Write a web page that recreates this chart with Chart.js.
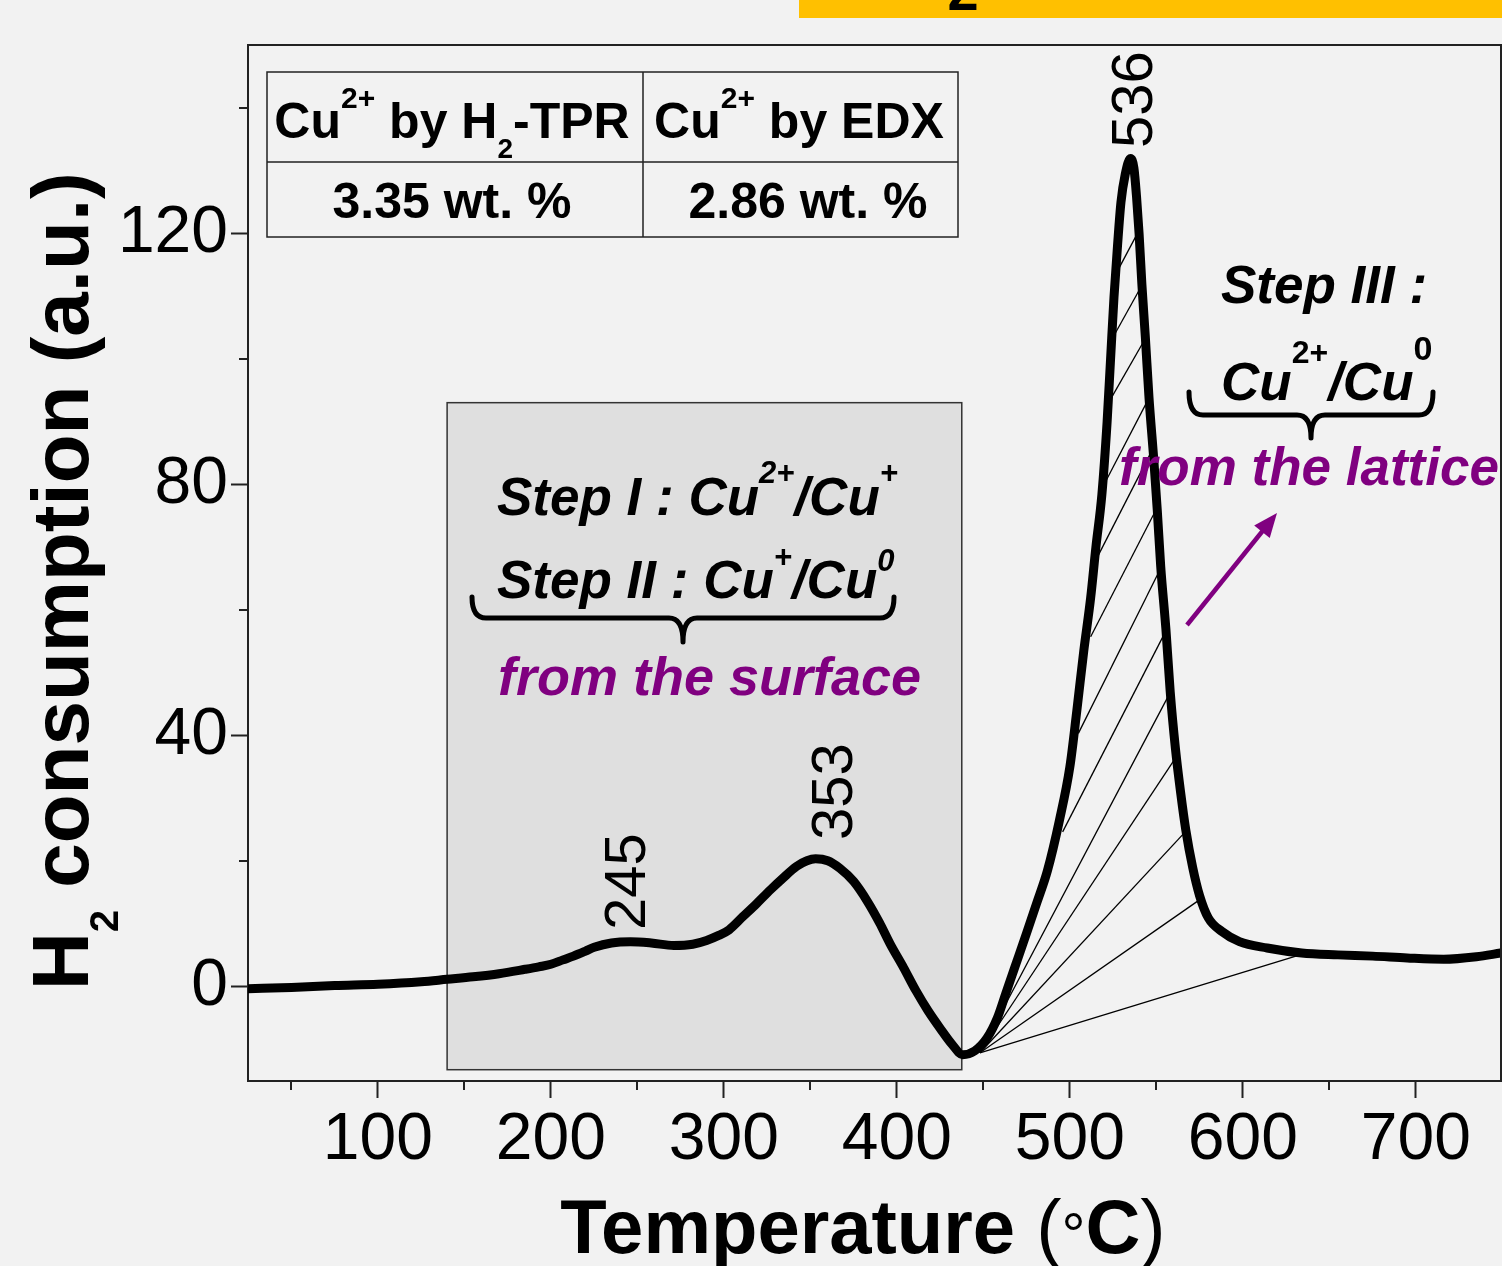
<!DOCTYPE html>
<html>
<head>
<meta charset="utf-8">
<script src="https://cdn.jsdelivr.net/npm/chart.js@4.4.1/dist/chart.umd.min.js"></script>
<style>
  html, body { margin: 0; padding: 0; background: #f2f2f2; overflow: hidden; }
  #wrap { width: 1502px; height: 1266px; }
</style>
</head>
<body>
<div id="wrap"><canvas id="tpr" width="1502" height="1266"></canvas></div>
<script>
// H2-TPR profile, temperature (°C) vs H2 consumption (a.u.)
const tempC = [25, 50, 75, 100, 125, 140, 155, 170, 185, 193, 200, 207, 213, 220, 225, 235, 246, 258, 271, 282,
  290, 297, 303, 311, 319, 327, 334, 342, 348, 353, 360, 367, 375, 383, 390, 396, 404, 411, 418, 425,
  432, 438, 445, 452, 458, 463, 468, 475, 481, 487, 494, 500, 504, 508, 512, 515, 518.5, 521.5, 523.5, 525.5,
  527.5, 529.5, 532, 535, 537, 538.5, 540, 541.6, 543.6, 545.7, 548.5, 550.5, 552.5, 555.5, 558, 561, 564, 567,
  571, 575, 580, 588, 598, 614, 634, 655, 675, 695, 716, 735, 749];
const h2Signal = [-0.3, -0.1, 0.2, 0.4, 0.8, 1.2, 1.6, 2.1, 2.8, 3.2, 3.6, 4.3, 4.9, 5.7, 6.3, 7.0, 7.2, 7.0, 6.6, 6.8,
  7.4, 8.2, 9.1, 11.2, 13.3, 15.5, 17.3, 19.2, 20.1, 20.4, 20.1, 18.9, 16.8, 13.6, 10.2, 6.9, 3.0, -0.6, -3.8, -6.6,
  -9.2, -10.8, -10.2, -8.2, -5.0, -1.0, 3.0, 8.6, 13.5, 18.5, 26.6, 35.1, 44, 53.5, 62, 70, 78.5, 90, 100, 110,
  118, 125, 129.5, 132, 130.5, 126, 120, 112, 103.6, 94, 84, 76, 67, 57, 47, 38, 31, 25,
  19, 14.5, 11, 8.8, 7.2, 6.2, 5.4, 5.1, 4.9, 4.6, 4.4, 4.8, 5.4];

// hatch segments under the 536 °C peak (start / end of each stroke)
const hatchX1 = [528.3, 526.3, 523.2, 520.2, 516.1, 512, 504.9, 495.8, 448, 448, 448, 448, 448];
const hatchY1 = [114.5, 104.2, 93.5, 80.3, 68.6, 55.8, 40.4, 24.7, -10.5, -10.5, -10.5, -10.5, -10.5];
const hatchX2 = [538.5, 542.2, 544.2, 546.2, 548.2, 549.7, 551.2, 554.3, 556.8, 560.9, 566, 575.1, 633];
const hatchY2 = [119.8, 112.1, 103.6, 94.1, 85.9, 76, 66, 56.1, 46.3, 36.4, 24.5, 13.9, 5.1];

const peakTemps = ['245', '353', '536'];

const xMajorTicks = [100, 200, 300, 400, 500, 600, 700];
const xMinorTicks = [50, 150, 250, 350, 450, 550, 650];
const yMajorTicks = [0, 40, 80, 120];
const yMinorTicks = [20, 60, 100, 140];

const tableHead = ['by H', 'by EDX'];
const tableValues = ['3.35 wt. %', '2.86 wt. %'];

const FONT = '"Liberation Sans", Arial, sans-serif';
const PURPLE = '#800080';
const AXIS = '#222222';

function runsWidth(ctx, runs) {
  let w = 0;
  runs.forEach((r) => { ctx.font = r.font; w += ctx.measureText(r.t).width; });
  return w;
}

// draw a row of text pieces (for super/subscripts)
function drawRuns(ctx, x, y, runs, align) {
  ctx.save();
  ctx.textBaseline = 'alphabetic';
  ctx.textAlign = 'left';
  let cx = align === 'center' ? x - runsWidth(ctx, runs) / 2 : x;
  runs.forEach((r) => {
    ctx.font = r.font;
    ctx.fillStyle = r.color || '#000';
    ctx.fillText(r.t, cx, y + (r.dy || 0));
    cx += ctx.measureText(r.t).width;
  });
  ctx.restore();
}

function brace(ctx, x0, x1, yTop, yMid, yTip) {
  const xc = (x0 + x1) / 2;
  const r = 14;
  ctx.save();
  ctx.strokeStyle = '#000';
  ctx.lineWidth = 5;
  ctx.lineJoin = 'round';
  ctx.lineCap = 'round';
  ctx.beginPath();
  ctx.moveTo(x0, yTop);
  ctx.quadraticCurveTo(x0, yMid, x0 + r, yMid);
  ctx.lineTo(xc - r, yMid);
  ctx.quadraticCurveTo(xc, yMid, xc, yTip);
  ctx.quadraticCurveTo(xc, yMid, xc + r, yMid);
  ctx.lineTo(x1 - r, yMid);
  ctx.quadraticCurveTo(x1, yMid, x1, yTop);
  ctx.stroke();
  ctx.restore();
}

function arrow(ctx, x0, y0, x1, y1) {
  const a = Math.atan2(y1 - y0, x1 - x0);
  const L = 24, W = 10;
  const c = Math.cos(a), s = Math.sin(a);
  ctx.save();
  ctx.strokeStyle = PURPLE;
  ctx.fillStyle = PURPLE;
  ctx.lineWidth = 4.5;
  ctx.beginPath();
  ctx.moveTo(x0, y0);
  ctx.lineTo(x1 - L * 0.8 * c, y1 - L * 0.8 * s);
  ctx.stroke();
  ctx.beginPath();
  ctx.moveTo(x1, y1);
  ctx.lineTo(x1 - L * c + W * s, y1 - L * s - W * c);
  ctx.lineTo(x1 - L * c - W * s, y1 - L * s + W * c);
  ctx.closePath();
  ctx.fill();
  ctx.restore();
}

const decorations = {
  id: 'decorations',
  beforeDraw(chart) {
    const ctx = chart.ctx;
    ctx.save();
    ctx.fillStyle = '#f2f2f2';
    ctx.fillRect(0, 0, chart.width, chart.height);
    // strip of the banner above the plot
    ctx.fillStyle = '#ffc000';
    ctx.fillRect(799, 0, 703, 18);
    ctx.fillStyle = '#000';
    ctx.font = 'bold 56px ' + FONT;
    ctx.textAlign = 'center';
    ctx.textBaseline = 'alphabetic';
    ctx.fillText('2', 963, 10);
    ctx.restore();
  },
  beforeDatasetsDraw(chart) {
    const { ctx, scales: { x, y } } = chart;
    // shaded "surface" window
    const l = x.getPixelForValue(140), r = x.getPixelForValue(437.5);
    const t = y.getPixelForValue(93.1), b = y.getPixelForValue(-13.2);
    ctx.save();
    ctx.fillStyle = '#dfdfdf';
    ctx.fillRect(l, t, r - l, b - t);
    ctx.strokeStyle = '#333';
    ctx.lineWidth = 1.5;
    ctx.strokeRect(l, t, r - l, b - t);
    ctx.restore();
  },
  afterDatasetsDraw(chart) {
    const ctx = chart.ctx;
    const B = 'bold ', BI = 'italic bold ';

    // inset table
    ctx.save();
    ctx.strokeStyle = AXIS;
    ctx.lineWidth = 1.5;
    ctx.strokeRect(267, 72, 691, 165);
    ctx.beginPath();
    ctx.moveTo(267, 162); ctx.lineTo(958, 162);
    ctx.moveTo(643, 72); ctx.lineTo(643, 237);
    ctx.stroke();
    ctx.restore();
    drawRuns(ctx, 452, 138, [
      { t: 'Cu', font: B + '50px ' + FONT },
      { t: '2+', font: B + '30px ' + FONT, dy: -30 },
      { t: ' ' + tableHead[0], font: B + '50px ' + FONT },
      { t: '2', font: B + '28px ' + FONT, dy: 20 },
      { t: '-TPR', font: B + '50px ' + FONT },
    ], 'center');
    drawRuns(ctx, 799, 138, [
      { t: 'Cu', font: B + '50px ' + FONT },
      { t: '2+', font: B + '30px ' + FONT, dy: -30 },
      { t: ' ' + tableHead[1], font: B + '50px ' + FONT },
    ], 'center');
    drawRuns(ctx, 452, 218, [{ t: tableValues[0], font: B + '50px ' + FONT }], 'center');
    drawRuns(ctx, 808, 218, [{ t: tableValues[1], font: B + '50px ' + FONT }], 'center');

    // surface reduction steps
    drawRuns(ctx, 497, 515, [
      { t: 'Step I : Cu', font: BI + '53px ' + FONT },
      { t: '2+', font: BI + '31px ' + FONT, dy: -32 },
      { t: '/Cu', font: BI + '53px ' + FONT },
      { t: '+', font: BI + '31px ' + FONT, dy: -32 },
    ]);
    drawRuns(ctx, 497, 598, [
      { t: 'Step II : Cu', font: BI + '53px ' + FONT },
      { t: '+', font: BI + '31px ' + FONT, dy: -31 },
      { t: '/Cu', font: BI + '53px ' + FONT },
      { t: '0', font: BI + '31px ' + FONT, dy: -27 },
    ]);
    brace(ctx, 472, 894, 597, 618, 642);
    drawRuns(ctx, 498, 695, [{ t: 'from the surface', font: BI + '54px ' + FONT, color: PURPLE }]);

    // lattice reduction step
    drawRuns(ctx, 1221, 303, [{ t: 'Step III :', font: BI + '53px ' + FONT }]);
    drawRuns(ctx, 1221, 400, [
      { t: 'Cu', font: BI + '53px ' + FONT },
      { t: '2+', font: B + '32px ' + FONT, dy: -37 },
      { t: '/Cu', font: BI + '53px ' + FONT },
      { t: '0', font: B + '34px ' + FONT, dy: -40 },
    ]);
    brace(ctx, 1189, 1433, 392, 415, 438);
    drawRuns(ctx, 1119, 485, [{ t: 'from the lattice', font: BI + '53px ' + FONT, color: PURPLE }]);
    arrow(ctx, 1187, 625, 1277, 513);

    // peak maxima, rotated
    const peakPos = [[645, 930], [852, 840], [1152, 148]];
    ctx.save();
    ctx.fillStyle = '#000';
    ctx.font = '58px ' + FONT;
    ctx.textAlign = 'left';
    ctx.textBaseline = 'alphabetic';
    peakTemps.forEach((lbl, i) => {
      ctx.save();
      ctx.translate(peakPos[i][0], peakPos[i][1]);
      ctx.rotate(-Math.PI / 2);
      ctx.fillText(lbl, 0, 0);
      ctx.restore();
    });
    ctx.restore();
  },
  afterDraw(chart) {
    const { ctx, chartArea: a, scales: { x, y } } = chart;
    ctx.save();
    ctx.strokeStyle = AXIS;
    ctx.lineWidth = 2;
    // top and right frame
    ctx.beginPath();
    ctx.moveTo(a.left, a.top); ctx.lineTo(a.right, a.top); ctx.lineTo(a.right, a.bottom);
    ctx.stroke();
    // minor ticks
    ctx.beginPath();
    xMinorTicks.forEach((v) => {
      if (v < x.min || v > x.max) return;
      const px = Math.round(x.getPixelForValue(v));
      ctx.moveTo(px, a.bottom); ctx.lineTo(px, a.bottom + 9);
    });
    yMinorTicks.forEach((v) => {
      if (v < y.min || v > y.max) return;
      const py = Math.round(y.getPixelForValue(v));
      ctx.moveTo(a.left, py); ctx.lineTo(a.left - 9, py);
    });
    ctx.stroke();
    ctx.restore();

    // axis titles
    drawRuns(ctx, 863, 1253, [
      { t: 'Temperature ', font: 'bold 76px ' + FONT },
      { t: '(', font: '76px ' + FONT },
      { t: '\u00b0', font: '60px ' + FONT, dy: 2 },
      { t: 'C', font: 'bold 76px ' + FONT },
      { t: ')', font: '76px ' + FONT },
    ], 'center');
    ctx.save();
    ctx.translate(88, 990);
    ctx.rotate(-Math.PI / 2);
    drawRuns(ctx, 0, 0, [
      { t: 'H', font: 'bold 80px ' + FONT },
      { t: '2', font: 'bold 40px ' + FONT, dy: 30 },
      { t: ' consumption (a.u.)', font: 'bold 80px ' + FONT },
    ]);
    ctx.restore();
  },
};

const datasets = [{
  label: 'H2 consumption',
  data: tempC.map((t, i) => ({ x: t, y: h2Signal[i] })),
  borderColor: '#000',
  borderWidth: 9,
  pointRadius: 0,
  cubicInterpolationMode: 'monotone',
  borderJoinStyle: 'round',
  borderCapStyle: 'round',
  order: 0,
}];
hatchX1.forEach((_, i) => {
  datasets.push({
    label: 'hatch ' + i,
    data: [{ x: hatchX1[i], y: hatchY1[i] }, { x: hatchX2[i], y: hatchY2[i] }],
    borderColor: '#000',
    borderWidth: 1.3,
    pointRadius: 0,
    tension: 0,
    order: 1,
  });
});

new Chart(document.getElementById('tpr'), {
  type: 'line',
  data: { datasets },
  plugins: [decorations],
  options: {
    responsive: false,
    animation: false,
    layout: { padding: { top: 45, right: 1, left: 0, bottom: 0 } },
    plugins: { legend: { display: false }, tooltip: { enabled: false } },
    scales: {
      x: {
        type: 'linear',
        min: 24.9,
        max: 749.2,
        afterBuildTicks: (s) => { s.ticks = xMajorTicks.map((v) => ({ value: v })); },
        afterFit: (s) => { s.height = 185; },
        grid: { drawOnChartArea: false, drawTicks: true, tickLength: 17, tickWidth: 2, tickColor: AXIS },
        border: { display: true, color: AXIS, width: 2 },
        ticks: { color: '#000', font: { family: FONT, size: 66 }, padding: 3, maxRotation: 0, autoSkip: false },
      },
      y: {
        type: 'linear',
        min: -15,
        max: 150.1,
        afterBuildTicks: (s) => { s.ticks = yMajorTicks.map((v) => ({ value: v })); },
        afterFit: (s) => { s.width = 248; },
        grid: { drawOnChartArea: false, drawTicks: true, tickLength: 17, tickWidth: 2, tickColor: AXIS },
        border: { display: true, color: AXIS, width: 2 },
        ticks: { color: '#000', font: { family: FONT, size: 66 }, padding: 3, autoSkip: false },
      },
    },
  },
});
</script>
</body>
</html>
